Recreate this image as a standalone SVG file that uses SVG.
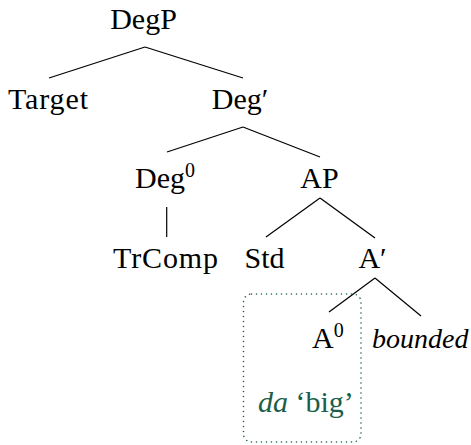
<svg xmlns="http://www.w3.org/2000/svg" width="471" height="445" viewBox="0 0 471 445">
  <style>
    .lbl { font-family: "Liberation Serif", "DejaVu Serif", serif; font-size: 30px; fill: #000; }
    .it { font-style: italic; }
    .sup { font-size: 20px; }
    .gl { fill: #1b5e4b; }
    .edge { stroke: #000; stroke-width: 1.2; fill: none; }
    .hl { fill: none; stroke: #1b5e4b; stroke-width: 1.6; stroke-dasharray: 0 5; stroke-linecap: round; }
  </style>
  <rect width="471" height="445" fill="#fff"/>
  <g id="edges">
    <line class="edge" x1="145" y1="47" x2="49" y2="78"/>
    <line class="edge" x1="145" y1="47" x2="243" y2="78"/>
    <line class="edge" x1="243" y1="127" x2="167" y2="152"/>
    <line class="edge" x1="243" y1="127" x2="320" y2="157"/>
    <line class="edge" x1="166.7" y1="207" x2="166.7" y2="237"/>
    <line class="edge" x1="320" y1="198" x2="266" y2="237"/>
    <line class="edge" x1="320" y1="198" x2="375" y2="238"/>
    <line class="edge" x1="375" y1="278" x2="329" y2="312"/>
    <line class="edge" x1="375" y1="278" x2="421" y2="316"/>
  </g>
  <g id="n-degp"><text class="lbl" x="143.5" y="29" text-anchor="middle">DegP</text></g>
  <g id="n-target"><text class="lbl" x="8" y="109" textLength="80">Target</text></g>
  <g id="n-degbar"><text class="lbl" x="240" y="109" text-anchor="middle">Deg′</text></g>
  <g id="n-deg0"><text class="lbl" x="135" y="188">Deg<tspan class="sup" dy="-11">0</tspan></text></g>
  <g id="n-ap"><text class="lbl" x="319.5" y="188" text-anchor="middle">AP</text></g>
  <g id="n-trcomp"><text class="lbl" x="113" y="268" textLength="105">TrComp</text></g>
  <g id="n-std"><text class="lbl" x="264.5" y="268" text-anchor="middle">Std</text></g>
  <g id="n-abar"><text class="lbl" x="372.5" y="268" text-anchor="middle">A′</text></g>
  <g id="n-a0"><text class="lbl" x="312" y="348">A<tspan class="sup" dy="-11">0</tspan></text></g>
  <g id="n-bounded"><text class="lbl it" x="372" y="348" style="font-size:28px">bounded</text></g>
  <g id="n-da">
    <rect class="hl" x="243.5" y="294" width="117.5" height="148" rx="8"/>
    <text class="lbl gl" x="258" y="412"><tspan class="it">da</tspan> ‘big’</text>
  </g>
</svg>
